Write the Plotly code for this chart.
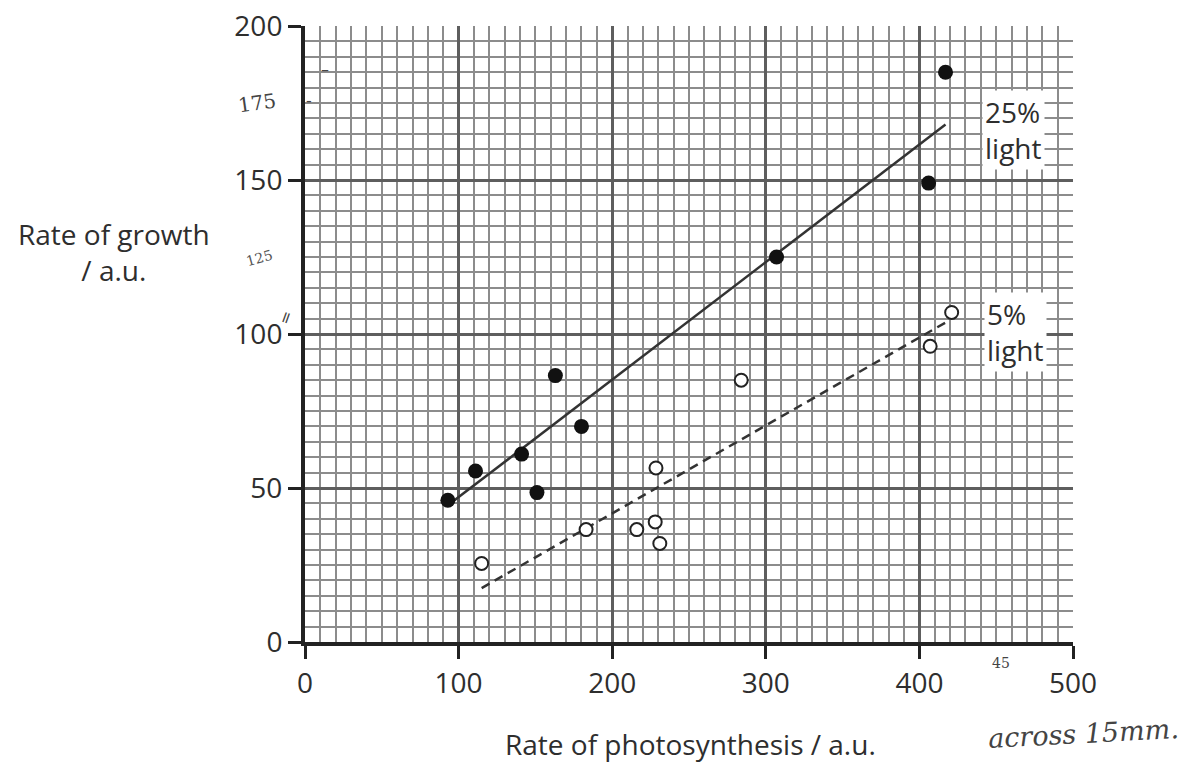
import plotly.graph_objects as go

# 25% light (filled circles)
photo_25 = [93, 111, 141, 151, 163, 180, 307, 406, 417]
growth_25 = [46, 55.5, 61, 48.5, 86.5, 70, 125, 149, 185]
# 5% light (open circles)
photo_5 = [115, 183, 216, 228, 231, 228.5, 284, 407, 421]
growth_5 = [25.5, 36.5, 36.5, 39, 32, 56.5, 85, 96, 107]
# lines of best fit (end points)
fit25_x = [96, 417]
fit25_y = [45.5, 168]
fit5_x = [115, 418]
fit5_y = [17.5, 104]
# ticks
x_ticks = [0, 100, 200, 300, 400, 500]
y_ticks = [0, 50, 100, 150, 200]

FONT = "Open Sans"
INK = "#222222"
TXT = "#2e2e2e"

fig = go.Figure()
fig.add_trace(go.Scatter(x=fit25_x, y=fit25_y, mode="lines",
                         line=dict(color="#333333", width=2.5), hoverinfo="skip"))
fig.add_trace(go.Scatter(x=fit5_x, y=fit5_y, mode="lines",
                         line=dict(color="#333333", width=2.5, dash="9px,6px"), hoverinfo="skip"))
fig.add_trace(go.Scatter(x=photo_25, y=growth_25, mode="markers", name="25% light",
                         marker=dict(size=15, color="#111111", line=dict(width=0))))
fig.add_trace(go.Scatter(x=photo_5, y=growth_5, mode="markers", name="5% light",
                         marker=dict(size=13, color="white", line=dict(width=2, color="#222222"))))

axis_common = dict(
    showline=True, linecolor=INK, linewidth=4,
    showgrid=True, gridcolor="#5e5e5e", gridwidth=3,
    zeroline=False, ticks="outside", ticklen=13, tickwidth=2.5, tickcolor=INK,
    tickfont=dict(family=FONT, size=28, color=TXT),
    ticklabeloverflow="allow", automargin=False,
    fixedrange=True,
)
fig.update_xaxes(range=[0, 500], tickvals=x_ticks, ticktext=[str(v) for v in x_ticks],
                 minor=dict(dtick=10, showgrid=True, gridcolor="#8c8c8c", gridwidth=1.6, ticks=""),
                 **axis_common)
fig.update_yaxes(range=[0, 200], tickvals=y_ticks, ticktext=[str(v) for v in y_ticks],
                 minor=dict(dtick=5, showgrid=True, gridcolor="#8c8c8c", gridwidth=1.6, ticks=""),
                 **axis_common)

# body margin is removed by the post script, so positions are page pixels
W, H = 1188, 762
L, T = 305, 26
R = W - 1073
B = H - 642
pw, ph = W - L - R, H - T - B


def px(sx, sy):
    return (sx - L) / pw, (H - B - sy) / ph


def note(sx, sy, text, size, family=FONT, color=TXT, angle=0, style="normal", xanchor="center"):
    x, y = px(sx, sy)
    return dict(x=x, y=y, xref="paper", yref="paper", text=text, showarrow=False,
                xanchor=xanchor, yanchor="middle", align="center", textangle=angle,
                font=dict(family=family, size=size, color=color, style=style))


annotations = [
    dict(x=441.0, y=166.3, xref="x", yref="y", text="25%<br>light", showarrow=False,
         xanchor="left", yanchor="middle", align="left", bgcolor="white", borderpad=2,
         font=dict(family=FONT, size=28, color=TXT)),
    dict(x=442.0, y=100.8, xref="x", yref="y", text="5%<br>light", showarrow=False,
         xanchor="left", yanchor="middle", align="left", bgcolor="white", borderpad=2,
         font=dict(family=FONT, size=28, color=TXT)),
    note(114, 252, "Rate of growth<br>/ a.u.", 28),
    note(690, 744, "Rate of photosynthesis / a.u.", 28),
    # handwritten notes
    note(257, 103, "175", 20, family="DejaVu Serif", color="#444444", angle=-8),
    note(309, 101, "-", 16, family="DejaVu Sans", color="#444444"),
    note(325, 70, "–", 16, family="DejaVu Sans", color="#444444"),
    note(259, 258, "125", 14, family="DejaVu Serif", color="#555555", angle=-15),
    note(285, 318, "=", 16, family="DejaVu Sans", color="#444444", angle=-70),
    note(1001, 663, "45", 14, family="DejaVu Serif", color="#444444"),
    note(1083, 733, "across 15mm.", 27, family="DejaVu Serif", color="#444444",
         angle=-3, style="italic"),
]

fig.update_layout(
    width=W, height=H,
    margin=dict(l=L, r=R, t=T, b=B, autoexpand=False),
    paper_bgcolor="white", plot_bgcolor="white",
    showlegend=False,
    annotations=annotations,
)

fig.write_html("out.html",
               config={"displayModeBar": False},
               post_script="document.body.style.margin='0px';document.body.style.overflow='hidden';")
